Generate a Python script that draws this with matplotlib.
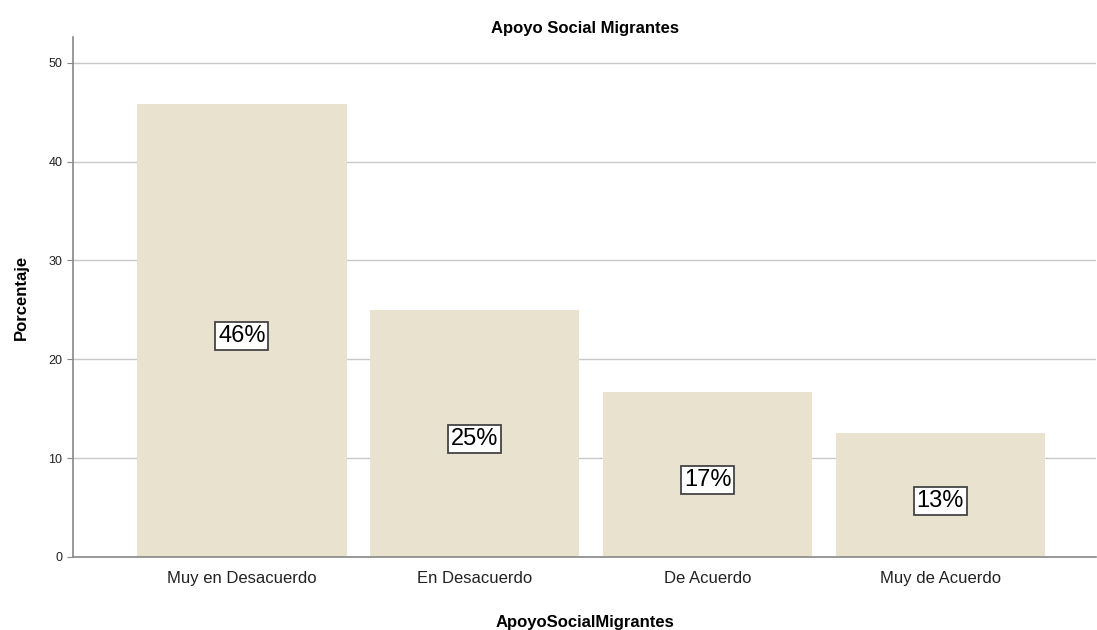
import matplotlib
matplotlib.use("Agg")
import matplotlib.pyplot as plt

plt.rcParams['font.family'] = ['Liberation Sans', 'DejaVu Sans']

# data
categorias = ['Muy en Desacuerdo', 'En Desacuerdo', 'De Acuerdo', 'Muy de Acuerdo']
porcentajes = [45.8, 25.0, 16.7, 12.5]
etiquetas = ['46%', '25%', '17%', '13%']
yticks = [0, 10, 20, 30, 40, 50]

fig = plt.figure(figsize=(10.97, 6.3), dpi=100)
ax = fig.add_axes([0.0665, 0.116, 0.933, 0.825])

x = list(range(len(categorias)))
ax.bar(x, porcentajes, width=0.9, color='#E8E2CE', zorder=2)

# percent labels in white boxes at bar centres
for xi, v, lab in zip(x, porcentajes, etiquetas):
    ax.annotate(lab, (xi, v / 2), xytext=(0, -4), textcoords='offset points',
                ha='center', va='center', fontsize=17, zorder=3,
                bbox=dict(boxstyle='square,pad=0.12', fc='white', ec='#444444', lw=1.3))

ax.set_xlim(-0.725, 3.67)
ax.set_ylim(0, 52.6)
ax.set_yticks(yticks)
ax.yaxis.grid(True, color='#C8C8C8', lw=1, zorder=0)
ax.set_axisbelow(True)

ax.set_xticks(x)
ax.set_xticklabels(categorias, fontsize=12, color='#222222')
ax.tick_params(axis='x', length=0, pad=10)
ax.tick_params(axis='y', length=4, labelsize=9, color='#888888', labelcolor='#222222')

for s in ['top', 'right']:
    ax.spines[s].set_visible(False)
for s in ['left', 'bottom']:
    ax.spines[s].set_color('#888888')
    ax.spines[s].set_linewidth(1.2)

ax.set_title('Apoyo Social Migrantes', fontsize=12, fontweight='bold', pad=3)
ax.set_ylabel('Porcentaje', fontsize=12, fontweight='bold', labelpad=14)
ax.set_xlabel('ApoyoSocialMigrantes', fontsize=12, fontweight='bold', labelpad=21)

fig.savefig('out.png', dpi=100)
